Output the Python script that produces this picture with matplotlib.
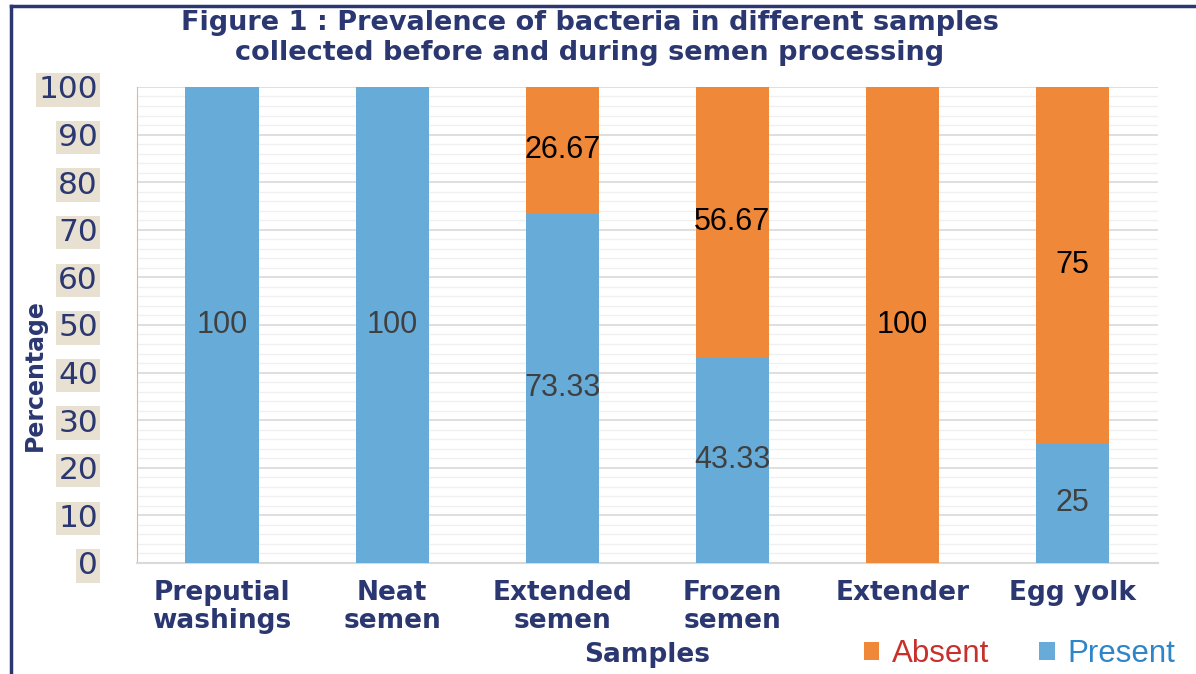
import numpy as np
import matplotlib.pyplot as plt
from matplotlib.patches import Patch
from matplotlib.lines import Line2D

samples = ['Preputial\nwashings', 'Neat\nsemen', 'Extended\nsemen', 'Frozen\nsemen', 'Extender', 'Egg yolk']
present = [100, 100, 73.33, 43.33, 0, 25]
absent = [0, 0, 26.67, 56.67, 100, 75]
yticks = [0, 10, 20, 30, 40, 50, 60, 70, 80, 90, 100]

navy = '#2b3770'
blue = '#67acd9'
orange = '#f0883a'

plt.rcParams['font.family'] = ['Liberation Sans', 'DejaVu Sans']
wide = 'DejaVu Sans'

fig = plt.figure(figsize=(11.96, 6.74), dpi=100)
ax = fig.add_axes([0.1145, 0.1647, 0.8535, 0.7063])

x = np.arange(len(samples))
w = 0.43
bp = ax.bar(x, present, w, color=blue, zorder=3)
ba = ax.bar(x, absent, w, bottom=present, color=orange, zorder=3)

# data labels, centred in each segment (Excel style)
for i in range(len(samples)):
    if present[i] > 0:
        ax.text(x[i], present[i] / 2, f'{present[i]:g}', ha='center', va='center',
                fontsize=22, color='#404040', zorder=4)
    if absent[i] > 0:
        ax.text(x[i], present[i] + absent[i] / 2, f'{absent[i]:g}', ha='center', va='center',
                fontsize=22, color='black', zorder=4)

ax.set_xlim(-0.5, len(samples) - 0.5)
ax.set_ylim(0, 100)
ax.set_yticks(yticks)
ax.set_yticks(np.arange(0, 101, 2), minor=True)
ax.grid(axis='y', which='major', color='#d9d9d9', linewidth=1.2, zorder=0)
ax.grid(axis='y', which='minor', color='#f0f0f0', linewidth=1.0, zorder=0)
ax.tick_params(axis='y', which='both', length=0, pad=28)
ax.tick_params(axis='x', length=0, pad=12)

for s in ['top', 'right']:
    ax.spines[s].set_visible(False)
ax.spines['left'].set_color('#f4b183')
ax.spines['bottom'].set_color('#d9d9d9')
ax.spines['bottom'].set_linewidth(1.5)

ax.set_xticks(x)
ax.set_xticklabels(samples, fontsize=19, fontweight='bold', color=navy, linespacing=1.1,
                   family=wide)
for lab in ax.get_yticklabels():
    lab.set_fontsize(22.5)
    lab.set_family(wide)
    lab.set_color(navy)
    lab.set_bbox(dict(facecolor='#e8e1d1', edgecolor='none', pad=1.5))

ax.set_xlabel('Samples', fontsize=19, fontweight='bold', color=navy, family=wide)
ax.xaxis.set_label_coords(0.5, -0.165)
ax.set_ylabel('Percentage', fontsize=17, fontweight='bold', color=navy, family=wide)
ax.yaxis.set_label_coords(-0.088, 0.395)

fig.text(0.493, 0.985, 'Figure 1 : Prevalence of bacteria in different samples\ncollected before and during semen processing',
         ha='center', va='top', fontsize=19.5, fontweight='bold', color=navy, linespacing=1.2,
         family=wide)

handles = [Patch(facecolor=orange), Patch(facecolor=blue)]
leg = fig.legend(handles, ['Absent', 'Present'], loc='lower right', bbox_to_anchor=(1.006, -0.035),
                 ncol=2, frameon=False, fontsize=22.5, handlelength=0.5, handleheight=0.5,
                 handletextpad=0.4, columnspacing=1.6, labelcolor=['#c8302c', '#2e86c8'])

# frame lines along left and top edge
fig.add_artist(Line2D([0.009, 0.009], [0, 0.991], color=navy, linewidth=2.5))
fig.add_artist(Line2D([0.009, 1.0], [0.991, 0.991], color=navy, linewidth=2.5))

fig.savefig('out.png', dpi=100)
